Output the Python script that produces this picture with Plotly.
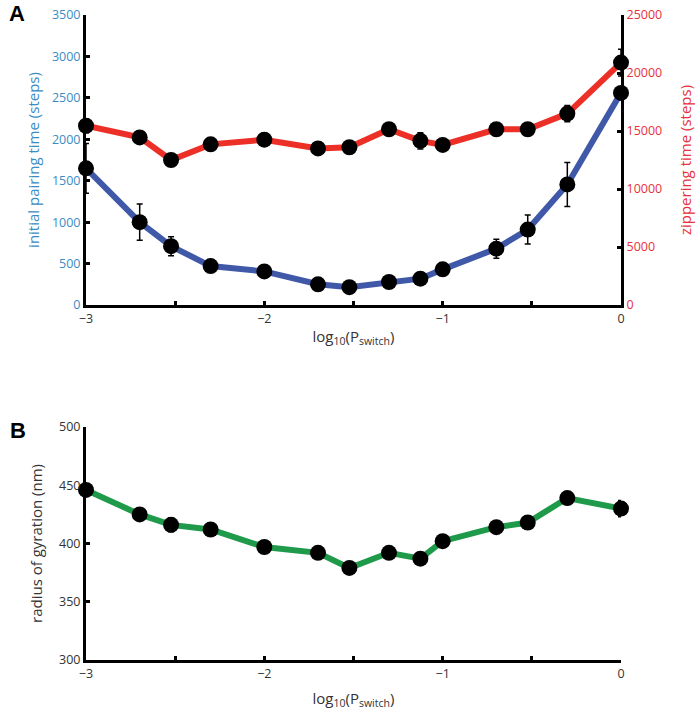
import plotly.graph_objects as go

# log10(P_switch) values
log_p = [-3.0, -2.699, -2.523, -2.301, -2.0, -1.699, -1.523, -1.301, -1.125, -1.0, -0.699, -0.523, -0.301, 0.0]

# initial pairing time (steps), left axis
pairing = [1650, 1000, 710, 470, 405, 250, 215, 278, 318, 430, 680, 910, 1455, 2560]
pairing_err = [300, 220, 115, 50, 40, 30, 30, 40, 40, 45, 115, 175, 265, 60]

# zippering time (steps), right axis
zipper = [15450, 14450, 12500, 13850, 14250, 13500, 13600, 15150, 14150, 13800, 15150, 15150, 16500, 20900]
zipper_err = [600, 500, 500, 500, 550, 450, 550, 450, 700, 450, 500, 450, 700, 1150]

# radius of gyration (nm)
rg = [446, 425, 416, 412, 397, 392, 379, 392, 387, 402, 414, 418, 439, 430]
rg_err = [3, 2, 6, 2, 4, 2, 2, 2, 2, 2, 2, 4, 5, 7]

blue = "#3f58a8"
red = "#ec3028"
green = "#1f9a4a"
blue_txt = "#3a8cc4"
red_txt = "#e8303a"
font = "Open Sans"

fig = go.Figure()

marker = dict(color="black", size=16)
err = lambda e: dict(type="data", array=e, color="black", thickness=1.5, width=3)

fig.add_trace(go.Scatter(x=log_p, y=zipper, yaxis="y2", mode="lines+markers",
                         line=dict(color=red, width=6), marker=marker,
                         error_y=err(zipper_err), cliponaxis=False))
fig.add_trace(go.Scatter(x=log_p, y=pairing, mode="lines+markers",
                         line=dict(color=blue, width=6), marker=marker,
                         error_y=err(pairing_err), cliponaxis=False))
fig.add_trace(go.Scatter(x=log_p, y=rg, xaxis="x2", yaxis="y3", mode="lines+markers",
                         line=dict(color=green, width=6), marker=marker,
                         error_y=err(rg_err), cliponaxis=False))

xdom = [86 / 698, 621 / 698]
axis_common = dict(showline=True, linecolor="black", linewidth=3, ticks="inside",
                   ticklen=4, tickwidth=3, tickcolor="black", showgrid=False,
                   zeroline=False, automargin=False)
x_minor = dict(dtick=0.5, ticks="inside", ticklen=4, tickwidth=3, tickcolor="black", showgrid=False)
xtitle = "log<sub>10</sub>(P<sub>switch</sub>)"

fig.update_layout(
    width=698, height=710, margin=dict(l=0, r=0, t=0, b=0, autoexpand=False),
    plot_bgcolor="white", paper_bgcolor="white", showlegend=False,
    font=dict(family=font, size=12.5, color="#333333"),
    xaxis=dict(domain=xdom, range=[-3, 0], anchor="y", dtick=1, minor=x_minor,
               title=dict(text=xtitle, font=dict(size=15), standoff=6), **axis_common),
    yaxis=dict(domain=[1 - 305 / 710, 1 - 15 / 710], range=[0, 3500], dtick=500,
               tickfont=dict(color=blue_txt), anchor="x",
               title=dict(text="initial pairing time (steps)", font=dict(color=blue_txt, size=15), standoff=9),
               **axis_common),
    yaxis2=dict(overlaying="y", side="right", range=[0, 25000], dtick=5000, anchor="x",
                tickfont=dict(color=red_txt), tickformat="d",
                title=dict(text="zippering time (steps)", font=dict(color=red_txt, size=15), standoff=20),
                **axis_common),
    xaxis2=dict(domain=xdom, range=[-3, 0], anchor="y3", dtick=1, minor=x_minor,
                title=dict(text=xtitle, font=dict(size=15), standoff=13), **axis_common),
    yaxis3=dict(domain=[1 - 660 / 710, 1 - 427 / 710], range=[300, 500], dtick=50, anchor="x2",
                title=dict(text="radius of gyration (nm)", font=dict(size=15), standoff=13),
                **axis_common),
    annotations=[
        dict(text="<b>A</b>", x=0.01, y=1 - 14 / 710, xref="paper", yref="paper",
             xanchor="left", yanchor="middle", showarrow=False,
             font=dict(family="Liberation Sans", size=22, color="black")),
        dict(text="<b>B</b>", x=0.012, y=1 - 430 / 710, xref="paper", yref="paper",
             xanchor="left", yanchor="middle", showarrow=False,
             font=dict(family="Liberation Sans", size=22, color="black")),
    ],
)

fig.write_html("out.html", config={"displayModeBar": False},
               post_script="document.body.style.margin='0';")
